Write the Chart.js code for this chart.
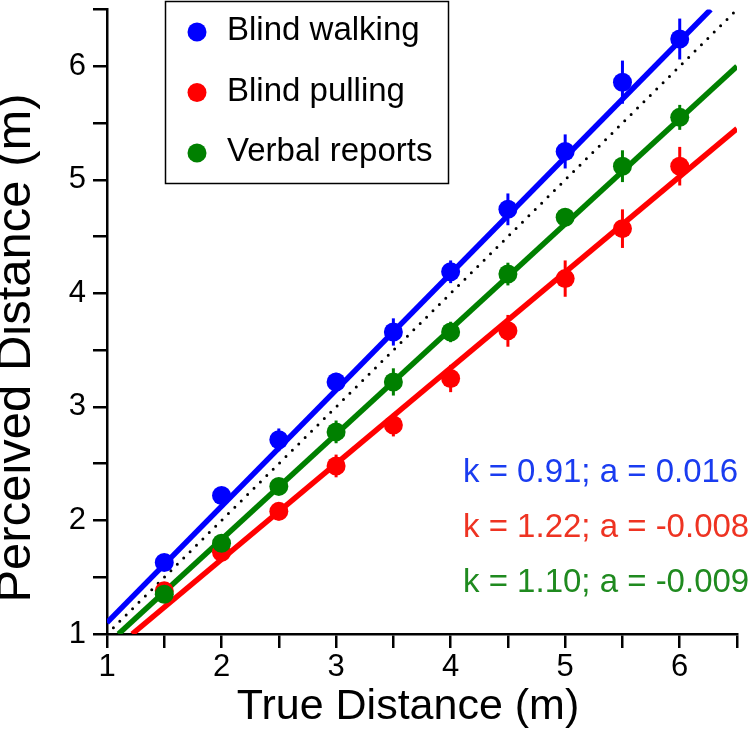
<!DOCTYPE html>
<html>
<head>
<meta charset="utf-8">
<script src="https://cdn.jsdelivr.net/npm/chart.js@4"></script>
<style>
  html, body { margin: 0; padding: 0; background: #ffffff; }
  #chart { display: block; }
</style>
</head>
<body>
<canvas id="chart" width="749" height="737"></canvas>
<script>
// true distances (m)
const trueDistance = [1.5, 2, 2.5, 3, 3.5, 4, 4.5, 5, 5.5, 6];

// mean perceived distance and error bar half-lengths per task
const walkingMean = [1.63, 2.22, 2.71, 3.22, 3.66, 4.19, 4.74, 5.25, 5.86, 6.24];
const walkingErr  = [0.07, 0.07, 0.10, 0.08, 0.12, 0.10, 0.14, 0.15, 0.19, 0.18];
const pullingMean = [1.38, 1.72, 2.08, 2.48, 2.84, 3.25, 3.67, 4.13, 4.57, 5.12];
const pullingErr  = [0.06, 0.07, 0.08, 0.10, 0.10, 0.12, 0.14, 0.16, 0.17, 0.17];
const verbalMean  = [1.35, 1.80, 2.30, 2.78, 3.22, 3.66, 4.17, 4.67, 5.12, 5.55];
const verbalErr   = [0.07, 0.07, 0.07, 0.10, 0.12, 0.09, 0.10, 0.08, 0.14, 0.11];

// fitted lines, where they enter and leave the plot
const walkingFitX = [1, 6.27];
const walkingFitY = [1.10, 6.5];
const pullingFitX = [1.22, 6.5];
const pullingFitY = [1, 5.45];
const verbalFitX  = [1.10, 6.5];
const verbalFitY  = [1, 6.0];
const identityX   = [1, 6.5];
const identityY   = [1, 6.5];

const seriesLabels = ['Blind walking', 'Blind pulling', 'Verbal reports'];
const fitLabels = ['k = 0.91; a = 0.016', 'k = 1.22; a = -0.008', 'k = 1.10; a = -0.009'];
const xTitle = 'True Distance (m)';
const yTitle = 'Perceived Distance (m)';

const axisMin = 1;
const axisMax = 6.5;

const BLUE = '#0000ff';
const RED = '#ff0000';
const GREEN = '#008000';
const FONT = "'Liberation Sans', Arial, Helvetica, sans-serif";

const toPoints = (xs, ys) => xs.map((x, i) => ({ x, y: ys[i] }));

function fitLine(xs, ys, color, order) {
  return {
    data: toPoints(xs, ys),
    showLine: true,
    borderColor: color,
    borderWidth: 5.5,
    pointRadius: 0,
    order,
  };
}

function markers(label, ys, errs, color, order) {
  return {
    label,
    data: toPoints(trueDistance, ys),
    errors: errs,
    backgroundColor: color,
    borderWidth: 0,
    pointRadius: 9.5,
    inLegend: true,
    order,
  };
}

// vertical error bars, drawn right after their own dataset
const errorBars = {
  id: 'errorBars',
  afterDatasetDraw(chart, args) {
    const ds = chart.data.datasets[args.index];
    if (!ds.errors) return;
    const { ctx, scales: { x, y } } = chart;
    ctx.save();
    ctx.strokeStyle = ds.backgroundColor;
    ctx.lineWidth = 3;
    ds.data.forEach((p, i) => {
      const px = x.getPixelForValue(p.x);
      ctx.beginPath();
      ctx.moveTo(px, y.getPixelForValue(p.y - ds.errors[i]));
      ctx.lineTo(px, y.getPixelForValue(p.y + ds.errors[i]));
      ctx.stroke();
    });
    ctx.restore();
  }
};

// boxed legend, fit parameters and the two axis titles
const decorations = {
  id: 'decorations',
  afterDraw(chart) {
    const { ctx, chartArea: area } = chart;
    const items = chart.data.datasets.filter(d => d.inLegend);
    ctx.save();
    ctx.strokeStyle = '#000000';
    ctx.lineWidth = 1.5;
    ctx.strokeRect(area.left + 58.5, 1.5, 283, 182);
    ctx.font = `33px ${FONT}`;
    ctx.textBaseline = 'middle';
    ctx.textAlign = 'left';
    items.forEach((d, i) => {
      const cy = 31 + i * 60.5;
      ctx.fillStyle = d.backgroundColor;
      ctx.beginPath();
      ctx.arc(area.left + 90, cy + 1, 9.5, 0, Math.PI * 2);
      ctx.fill();
      ctx.fillStyle = '#000000';
      ctx.fillText(d.label, area.left + 120, cy);
    });

    const textColors = ['#1a3cf0', '#ee3322', '#1f8a1f'];
    fitLabels.forEach((t, i) => {
      ctx.fillStyle = textColors[i];
      ctx.fillText(t, area.left + 356, 473 + i * 55);
    });

    ctx.fillStyle = '#000000';
    ctx.textAlign = 'center';
    ctx.font = `43px ${FONT}`;
    ctx.fillText(xTitle, area.left + 301, chart.height - 30);
    ctx.translate(16, 348);
    ctx.rotate(-Math.PI / 2);
    ctx.font = `49px ${FONT}`;
    ctx.fillText(yTitle, 0, 0);
    ctx.restore();
  }
};

const tickFont = { family: FONT, size: 31 };

function axis(tickPadding) {
  return {
    type: 'linear',
    min: axisMin,
    max: axisMax,
    border: { display: true, color: '#000000', width: 2.5 },
    grid: {
      drawOnChartArea: false,
      drawTicks: true,
      tickLength: 14,
      tickColor: '#000000',
      lineWidth: 2.5,
    },
    ticks: {
      stepSize: 0.5,
      autoSkip: false,
      maxRotation: 0,
      padding: tickPadding,
      color: '#000000',
      font: tickFont,
      callback: v => Number.isInteger(v) ? String(v) : '',
    },
  };
}

const xAxis = axis(1);
xAxis.afterFit = s => { s.height = 103; s.paddingLeft = 0; s.paddingRight = 0; };
const yAxis = axis(7);
yAxis.afterFit = s => { s.width = 107; s.paddingTop = 0; s.paddingBottom = 0; };

new Chart(document.getElementById('chart'), {
  type: 'scatter',
  data: {
    datasets: [
      {
        data: toPoints(identityX, identityY),
        showLine: true,
        borderColor: '#000000',
        borderWidth: 3,
        borderDash: [0, 9],
        borderCapStyle: 'round',
        pointRadius: 0,
        order: 10,
      },
      fitLine(walkingFitX, walkingFitY, BLUE, 9),
      fitLine(pullingFitX, pullingFitY, RED, 8),
      fitLine(verbalFitX, verbalFitY, GREEN, 7),
      markers(seriesLabels[0], walkingMean, walkingErr, BLUE, 3),
      markers(seriesLabels[1], pullingMean, pullingErr, RED, 2),
      markers(seriesLabels[2], verbalMean, verbalErr, GREEN, 1),
    ]
  },
  options: {
    responsive: false,
    animation: false,
    layout: { padding: { left: 0, right: 12, top: 1, bottom: 0 } },
    plugins: {
      legend: { display: false },
      tooltip: { enabled: false },
    },
    scales: { x: xAxis, y: yAxis },
  },
  plugins: [errorBars, decorations],
});
</script>
</body>
</html>
